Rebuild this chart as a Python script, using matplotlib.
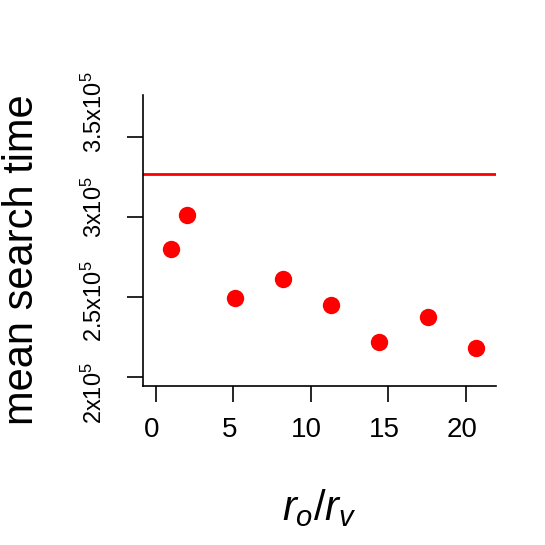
import matplotlib
matplotlib.use("Agg")
import matplotlib.pyplot as plt
import matplotlib.transforms as mtransforms

plt.rcParams['font.family'] = ['Liberation Sans', 'DejaVu Sans']
plt.rcParams['mathtext.fontset'] = 'custom'
plt.rcParams['mathtext.rm'] = 'Liberation Sans'
plt.rcParams['mathtext.it'] = 'Liberation Sans:italic'

# data
ratio = [1.0, 2.0, 5.1, 8.2, 11.3, 14.4, 17.55, 20.65]
search_time = [2.798e5, 3.012e5, 2.494e5, 2.611e5, 2.45e5, 2.217e5, 2.373e5, 2.179e5]
baseline = 3.265e5

xticks = [0, 5, 10, 15, 20]
yticks = [2e5, 2.5e5, 3e5, 3.5e5]
ytick_labels = [r'$\mathrm{2x10}^5$', r'$\mathrm{2.5x10}^5$', r'$\mathrm{3x10}^5$', r'$\mathrm{3.5x10}^5$']

fig = plt.figure(figsize=(5.45, 5.45), dpi=100)
ax = fig.add_axes([0.2618, 0.2923, 0.6477, 0.5334])

ax.axhline(baseline, color='#ff0000', lw=2)
ax.plot(ratio, search_time, 'o', color='#ff0000', markersize=12.5, markeredgewidth=0)

ax.set_xlim(-0.84, 21.94)
ax.set_ylim(1.944e5, 3.76e5)

ax.spines['top'].set_visible(False)
ax.spines['right'].set_visible(False)
for s in ['left', 'bottom']:
    ax.spines[s].set_linewidth(1.2)

ax.set_xticks(xticks)
ax.set_xticklabels([str(t) for t in xticks], fontsize=20)
ax.set_yticks(yticks)
ax.set_yticklabels(ytick_labels, fontsize=17, rotation=90, va='center')
ax.tick_params(length=11.5, width=1.2)
ax.tick_params(axis='x', pad=11)
ax.tick_params(axis='y', pad=14)

# R draws the x labels a few pixels left of the ticks
shift = mtransforms.ScaledTranslation(-0.04, 0, fig.dpi_scale_trans)
for lab in ax.get_xticklabels():
    lab.set_transform(lab.get_transform() + shift)

# the y labels in the original are spread a bit wider than the ticks (pixels)
for lab, dy in zip(ax.get_yticklabels(), [-16, -5, 10, 24]):
    lab.set_transform(lab.get_transform() +
                      mtransforms.ScaledTranslation(0, dy / 100, fig.dpi_scale_trans))

ax.set_ylabel('mean search time', fontsize=30)
ax.yaxis.set_label_coords(-0.285, 0.434)
ax.set_xlabel(r'$r_o/r_v$', fontsize=30, labelpad=32)

fig.savefig('out.png', dpi=100)
